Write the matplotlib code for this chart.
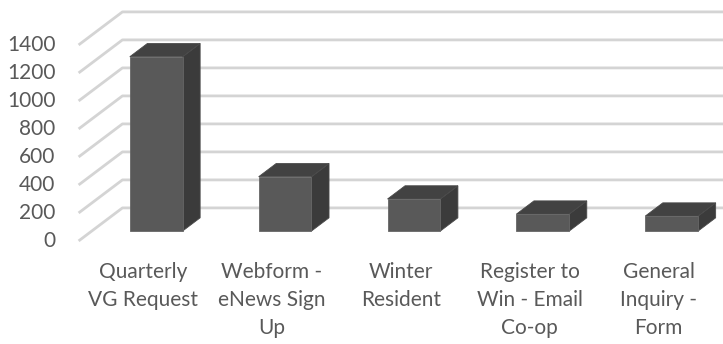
import numpy as np
import matplotlib.pyplot as plt
from matplotlib.patches import Polygon

categories = ["Quarterly\nVG Request", "Webform -\neNews Sign\nUp", "Winter\nResident",
              "Register to\nWin - Email\nCo-op", "General\nInquiry -\nForm"]
values = [1245, 388, 229, 121, 107]
ticks = [0, 200, 400, 600, 800, 1000, 1200, 1400]

# fake 3d: offset of the back wall in data units
DX = 0.34
DY = 236
D0 = 0.30      # bar front depth
DD = 0.40      # bar depth
W = 0.41

plt.rcParams['font.family'] = ['Lato', 'DejaVu Sans']
fig = plt.figure(figsize=(7.23, 3.44), dpi=100)
ax = fig.add_axes([0, 0, 1, 1])
ax.set_xlim(-1.11, 4.5)
ax.set_ylim(-736, 1721)
ax.axis('off')

txt = '#595959'
grid = '#d4d4d4'
n = len(categories)
for t in ticks:
    ax.plot([-0.5, -0.5 + DX, n - 0.5 + DX], [t, t + DY, t + DY], color=grid, lw=2, zorder=1,
            solid_capstyle='butt')
    ax.text(-0.68, t, str(t), ha='right', va='center', fontsize=15, color=txt)

for i, v in enumerate(values):
    x0 = i - W / 2 + D0 * DX
    y0 = D0 * DY
    ox, oy = DD * DX, DD * DY
    front = [(x0, y0), (x0 + W, y0), (x0 + W, y0 + v), (x0, y0 + v)]
    top = [(x0, y0 + v), (x0 + W, y0 + v), (x0 + W + ox, y0 + v + oy), (x0 + ox, y0 + v + oy)]
    side = [(x0 + W, y0), (x0 + W + ox, y0 + oy), (x0 + W + ox, y0 + v + oy), (x0 + W, y0 + v)]
    ax.add_patch(Polygon(side, closed=True, fc='#3b3b3b', ec='#4a4a4a', lw=0.6, zorder=3))
    ax.add_patch(Polygon(top, closed=True, fc='#424242', ec='#4a4a4a', lw=0.6, zorder=3))
    ax.add_patch(Polygon(front, closed=True, fc='#595959', ec='#666666', lw=0.6, zorder=4))
    ax.text(i, -150, categories[i], ha='center', va='top', fontsize=15, color=txt,
            linespacing=1.5)

fig.savefig('out.png', dpi=100)
